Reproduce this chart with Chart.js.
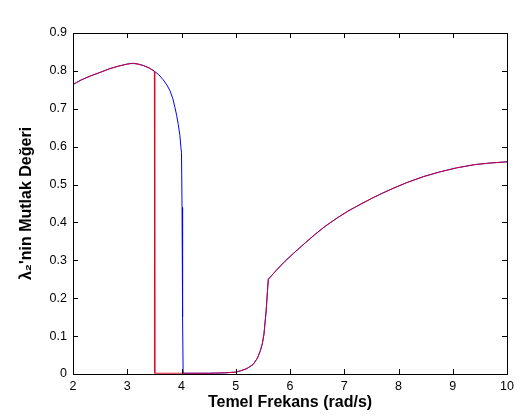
<!DOCTYPE html>
<html>
<head>
<meta charset="utf-8">
<script src="https://cdn.jsdelivr.net/npm/chart.js@4/dist/chart.umd.min.js"></script>
<style>
  html, body { margin: 0; padding: 0; background: #fff; }
  #wrap { width: 531px; height: 420px; }
</style>
</head>
<body>
<div id="wrap"><canvas id="lambdaChart"></canvas></div>
<script>
// frequency (rad/s) and |lambda2|
var freqBlue = [2, 2.15, 2.31, 2.5, 2.68, 2.85, 3.0, 3.1, 3.2, 3.3, 3.4, 3.49,
  3.58, 3.66, 3.73, 3.79, 3.84, 3.88, 3.91, 3.94, 3.97, 3.99, 4.0, 4.01, 4.02, 4.03,
  4.5, 4.8, 5.0, 5.08, 5.2, 5.32, 5.4, 5.45, 5.49, 5.52, 5.56, 5.59, 5.6,
  5.75, 5.91, 6.1, 6.28, 6.45, 6.65, 6.85, 7.07, 7.3, 7.5, 7.7, 7.9,
  8.15, 8.46, 8.75, 9.07, 9.4, 9.7, 10];
var lambdaBlue = [0.764, 0.776, 0.786, 0.796, 0.806, 0.813, 0.818, 0.82, 0.818, 0.814, 0.808, 0.80,
  0.79, 0.777, 0.763, 0.747, 0.727, 0.703, 0.683, 0.659, 0.63, 0.597, 0.585, 0.44, 0.15, 0.002,
  0.002, 0.003, 0.005, 0.008, 0.014, 0.025, 0.042, 0.06, 0.08, 0.105, 0.166, 0.23, 0.25,
  0.274, 0.298, 0.323, 0.346, 0.367, 0.39, 0.41, 0.43, 0.448, 0.463, 0.477, 0.49,
  0.505, 0.521, 0.533, 0.544, 0.5525, 0.557, 0.56];

var freqRed = [2, 2.15, 2.31, 2.5, 2.68, 2.85, 3.0, 3.1, 3.2, 3.3, 3.4, 3.49, 3.5, 3.505, 3.51,
  4.0, 4.5, 4.8, 5.0, 5.08, 5.2, 5.32, 5.4, 5.45, 5.49, 5.52, 5.56, 5.59, 5.6,
  5.75, 5.91, 6.1, 6.28, 6.45, 6.65, 6.85, 7.07, 7.3, 7.5, 7.7, 7.9,
  8.15, 8.46, 8.75, 9.07, 9.4, 9.7, 10];
var lambdaRed = [0.764, 0.776, 0.786, 0.796, 0.806, 0.813, 0.818, 0.82, 0.818, 0.814, 0.808, 0.80, 0.798, 0.41, 0.002,
  0.002, 0.002, 0.003, 0.005, 0.008, 0.014, 0.025, 0.042, 0.06, 0.08, 0.105, 0.166, 0.23, 0.25,
  0.274, 0.298, 0.323, 0.346, 0.367, 0.39, 0.41, 0.43, 0.448, 0.463, 0.477, 0.49,
  0.505, 0.521, 0.533, 0.544, 0.5525, 0.557, 0.56];

var xTicks = [2, 3, 4, 5, 6, 7, 8, 9, 10];
var yTicks = [0, 0.1, 0.2, 0.3, 0.4, 0.5, 0.6, 0.7, 0.8, 0.9];

function toPoints(xs, ys) {
  return xs.map(function (x, i) { return { x: x, y: ys[i] }; });
}

// matlab style box with inward ticks on all four sides
var boxPlugin = {
  id: 'matlabBox',
  afterDatasetsDraw: function (chart) {
    var c = chart.ctx, a = chart.chartArea;
    var xs = chart.scales.x, ys = chart.scales.y;
    var len = 5;
    c.save();
    c.strokeStyle = '#000';
    c.lineWidth = 1;
    c.beginPath();
    xTicks.forEach(function (v) {
      var px = Math.round(xs.getPixelForValue(v)) + 0.5;
      c.moveTo(px, a.bottom); c.lineTo(px, a.bottom - len);
      c.moveTo(px, a.top); c.lineTo(px, a.top + len);
    });
    yTicks.forEach(function (v) {
      var py = Math.round(ys.getPixelForValue(v)) + 0.5;
      c.moveTo(a.left, py); c.lineTo(a.left + len, py);
      c.moveTo(a.right, py); c.lineTo(a.right - len, py);
    });
    c.stroke();
    c.strokeRect(Math.round(a.left) + 0.5, Math.round(a.top) + 0.5,
      Math.round(a.right - a.left), Math.round(a.bottom - a.top));
    c.restore();
  }
};

var tickFont = { family: 'Liberation Sans, Arial, sans-serif', size: 12.5 };
var titleFont = { family: 'Liberation Sans, Arial, sans-serif', size: 16, weight: 'bold' };

new Chart(document.getElementById('lambdaChart'), {
  type: 'line',
  data: {
    datasets: [{
      label: 'blue',
      data: toPoints(freqBlue, lambdaBlue),
      borderColor: '#0000ff',
      borderWidth: 1,
      pointRadius: 0,
      fill: false,
      tension: 0,
      order: 2,
    }, {
      label: 'red',
      data: toPoints(freqRed, lambdaRed),
      borderColor: 'rgba(225, 0, 30, 0.9)',
      borderWidth: 1,
      pointRadius: 0,
      fill: false,
      tension: 0,
      order: 1,
    }],
  },
  options: {
    responsive: true,
    maintainAspectRatio: false,
    animation: false,
    layout: { padding: { left: 0, right: 24, top: 33, bottom: 0 } },
    plugins: {
      legend: { display: false },
      tooltip: { enabled: false },
    },
    scales: {
      x: {
        type: 'linear',
        min: 2,
        max: 10,
        afterFit: function (s) { s.height = 46; },
        afterBuildTicks: function (s) { s.ticks = xTicks.map(function (v) { return { value: v }; }); },
        grid: { display: false, drawTicks: false },
        border: { display: false },
        ticks: { color: '#000', font: tickFont, padding: 5 },
        title: {
          display: true,
          text: 'Temel Frekans (rad/s)',
          color: '#000',
          font: titleFont,
          padding: { top: 0, bottom: 8 },
        },
      },
      y: {
        type: 'linear',
        min: 0,
        max: 0.9,
        afterFit: function (s) { s.width = 73; },
        afterBuildTicks: function (s) { s.ticks = yTicks.map(function (v) { return { value: v }; }); },
        grid: { display: false, drawTicks: false },
        border: { display: false },
        ticks: {
          color: '#000',
          font: tickFont,
          padding: 6,
          callback: function (v) { return String(v); },
        },
        title: {
          display: true,
          text: 'λ₂\'nin Mutlak Değeri',
          color: '#000',
          font: titleFont,
          padding: { top: 17, bottom: 0 },
        },
      },
    },
  },
  plugins: [boxPlugin],
});
</script>
</body>
</html>
